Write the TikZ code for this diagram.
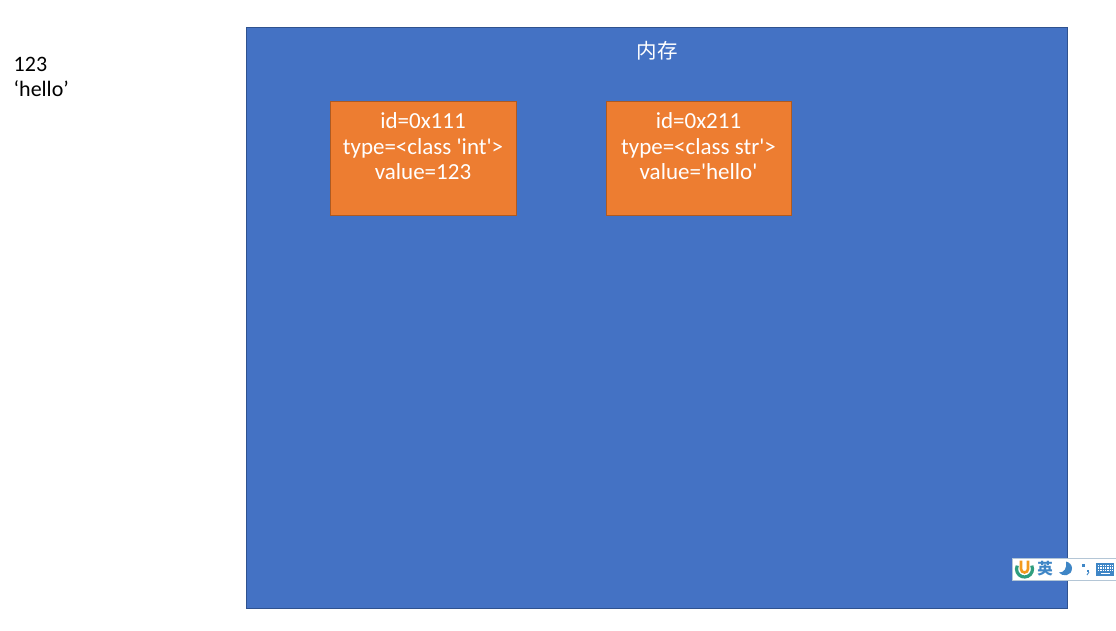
\documentclass[tikz,border=0pt]{standalone}
\usepackage{fontspec}
\newfontfamily\bodyfont{Carlito}
\newfontfamily\cjk{Noto Sans CJK SC}
\definecolor{memblue}{HTML}{4472C4}
\definecolor{memedge}{HTML}{2F528F}
\definecolor{objor}{HTML}{ED7D31}
\definecolor{objedge}{HTML}{AE5A21}
\definecolor{imeblue}{HTML}{3F86C6}
\definecolor{imeedge}{HTML}{B4C6D6}
\definecolor{logogreen}{HTML}{2F9E7E}
\definecolor{logoorange}{HTML}{F39A1E}
\tikzset{
  x=1pt,y=-1pt,
  txt/.style={font=\bodyfont\fontsize{23}{25.5}\selectfont,align=center,inner sep=0pt},
  sidetxt/.style={font=\bodyfont\fontsize{22}{25}\selectfont,align=left,inner sep=0pt},
  memory/.style={draw=memedge,fill=memblue,line width=0.8pt},
  objbox/.style={draw=objedge,fill=objor,line width=1pt},
  imepart/.style={fill=imeblue,draw=none}
}
\begin{document}
\begin{tikzpicture}
\useasboundingbox (0,0) rectangle (1116,631);
\fill[white] (0,0) rectangle (1116,631);
\node[sidetxt,anchor=north west,text=black] (vals) at (13.5,57) {123\\‘hello’};
\draw[memory] (246.5,27.5) rectangle (1067.5,608.5);
\node[txt,text=white] (memlabel) at (657,51) {\cjk\fontsize{20.5}{24}\selectfont 内存};
\draw[objbox] (330.5,101.5) rectangle (516.5,215.5);
\draw[objbox] (606.5,101.5) rectangle (791.5,215.5);
\node[txt,text=white,anchor=north] (obja) at (423,112.5) {id=0x111\\type=<class 'int'>\\value=123};
\node[txt,text=white,anchor=north] (objb) at (698.5,112.5) {id=0x211\\type=<class str'>\\value='hello'};
% IME status bar
\draw[imeedge,fill=white,line width=0.7pt] (1012.5,558.5) rectangle (1117,580);
\draw[logogreen,line width=3.2pt] (1024.5,569) ++(-25:8) arc[start angle=-25,end angle=205,radius=8];
\draw[logoorange,line width=2.6pt] (1021,560.5) -- (1021,569) arc[start angle=180,end angle=0,radius=3.5] -- (1028,560.5);
\node[inner sep=0pt,text=imeblue] (ying) at (1045,569) {\cjk\fontsize{15.5}{15.5}\selectfont\bfseries 英};
\fill[imepart] (1066,561.5) .. controls (1067,569) and (1064,572.5) .. (1059,572.5) .. controls (1062,577) and (1072,576.5) .. (1072,568) .. controls (1072,565) and (1069,562) .. (1066,561.5) -- cycle;
\fill[imepart] (1082,564) rectangle (1084.5,566.5);
\fill[imepart] (1087,569.5) rectangle (1089,572);
\draw[imeblue,line width=0.9pt] (1089,572) -- (1087,575);
\fill[imeblue] (1096,563) rectangle (1113.5,576);
\foreach \yy in {565.5,568,570.5}{
  \draw[white,line width=1.3pt,dash pattern=on 1.4pt off 0.9pt] (1098,\yy) -- (1112,\yy);
}
\draw[white,line width=1.3pt] (1100.5,573.2) -- (1109.5,573.2);
\end{tikzpicture}
\end{document}
